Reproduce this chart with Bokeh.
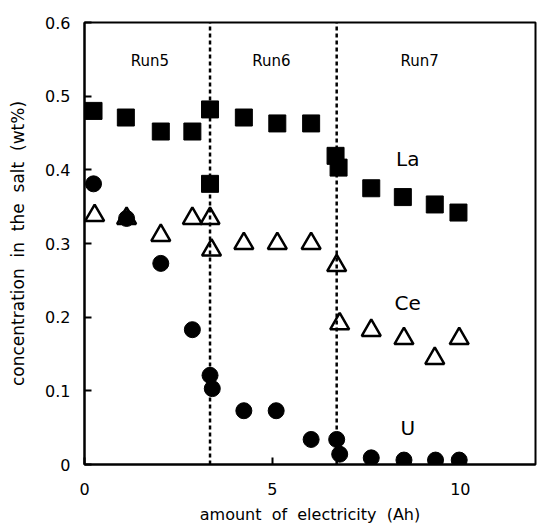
from bokeh.plotting import figure
from bokeh.models import Label, FixedTicker, ColumnDataSource
from bokeh.embed import file_html
from bokeh.resources import INLINE

# Amount of electricity passed (Ah) and salt concentration (wt%) for each element
la_x = [0.24, 1.10, 2.03, 2.87, 3.34, 3.34, 4.24, 5.13, 6.03, 6.68, 6.76, 7.63, 8.47, 9.32, 9.95]
la_y = [0.480, 0.471, 0.452, 0.452, 0.482, 0.381, 0.471, 0.463, 0.463, 0.419, 0.403, 0.375, 0.363, 0.353, 0.342]

ce_x = [0.27, 1.12, 2.03, 2.87, 3.34, 3.38, 4.24, 5.13, 6.03, 6.71, 6.79, 7.63, 8.50, 9.32, 9.97]
ce_y = [0.338, 0.334, 0.311, 0.334, 0.334, 0.291, 0.300, 0.300, 0.300, 0.270, 0.191, 0.182, 0.171, 0.144, 0.171]

u_x = [0.24, 1.12, 2.03, 2.87, 3.34, 3.40, 4.24, 5.10, 6.03, 6.71, 6.79, 7.63, 8.50, 9.34, 9.97]
u_y = [0.381, 0.334, 0.273, 0.183, 0.121, 0.103, 0.073, 0.073, 0.034, 0.034, 0.014, 0.009, 0.006, 0.006, 0.006]

# Boundaries between consecutive runs
run_bounds = [3.34, 6.71]
run_names = ["Run5", "Run6", "Run7"]

x_ticks = [0, 5, 10]
y_ticks = [0, 0.1, 0.2, 0.3, 0.4, 0.5, 0.6]

FONT = "DejaVu Sans"
GAP = "\u00a0\u00a0"  # wider word spacing in the axis titles

p = figure(width=537, height=526, x_range=(0, 12), y_range=(0, 0.6),
           output_backend="svg", toolbar_location=None,
           min_border_left=84, min_border_right=2, min_border_top=22, min_border_bottom=62)
p.grid.visible = False
p.background_fill_color = "white"
p.border_fill_color = "white"
p.outline_line_color = "black"
p.outline_line_width = 2

for ax in (p.xaxis[0], p.yaxis[0]):
    ax.axis_line_width = 2
    ax.major_tick_line_width = 2
    ax.major_tick_in = 7
    ax.major_tick_out = 0
    ax.minor_tick_line_color = None
    ax.major_label_text_font = FONT
    ax.major_label_text_font_size = "16px"
    ax.major_label_text_color = "black"
    ax.axis_label_text_font = FONT
    ax.axis_label_text_font_style = "normal"
    ax.axis_label_text_color = "black"

p.xaxis.axis_label_text_font_size = "16px"
p.yaxis.axis_label_text_font_size = "17px"

p.xaxis.ticker = FixedTicker(ticks=x_ticks)
p.yaxis.ticker = FixedTicker(ticks=y_ticks)
p.xaxis.major_label_overrides = {t: f"{t:g}" for t in x_ticks}
p.yaxis.major_label_overrides = {t: f"{t:g}" for t in y_ticks}
p.xaxis.axis_label = GAP.join(["amount", "of", "electricity", "(Ah)"])
p.yaxis.axis_label = GAP.join(["concentration", "in", "the", "salt", "(wt%)"])
p.xaxis.major_label_standoff = 18
p.yaxis.major_label_standoff = 14
p.xaxis.axis_label_standoff = 7
p.yaxis.axis_label_standoff = 14

# Run boundaries as dashed vertical lines
bounds = ColumnDataSource(dict(x0=run_bounds, y0=[0] * len(run_bounds),
                               x1=run_bounds, y1=[0.6] * len(run_bounds)))
p.segment("x0", "y0", "x1", "y1", source=bounds, line_color="black",
          line_width=2.5, line_dash="4 3")

p.scatter(la_x, la_y, marker="square", size=17, fill_color="black", line_color="black")
p.scatter(u_x, u_y, marker="circle", size=16, fill_color="black", line_color="black")
p.scatter(ce_x, ce_y, marker="triangle", size=19, fill_color="white",
          fill_alpha=0, line_color="black", line_width=2.5)

run_centers = [1.74, 4.97, 8.92]
for name, cx in zip(run_names, run_centers):
    p.add_layout(Label(x=cx, y=0.548, text=name, text_align="center", text_baseline="middle",
                       text_font=FONT, text_font_size="15px", text_color="black"))

for name, yy in zip(["La", "Ce", "U"], [0.415, 0.219, 0.050]):
    p.add_layout(Label(x=8.6, y=yy, text=name, text_align="center", text_baseline="middle",
                       text_font=FONT, text_font_size="20px", text_color="black"))

open("out.html", "w").write(file_html(p, INLINE))
